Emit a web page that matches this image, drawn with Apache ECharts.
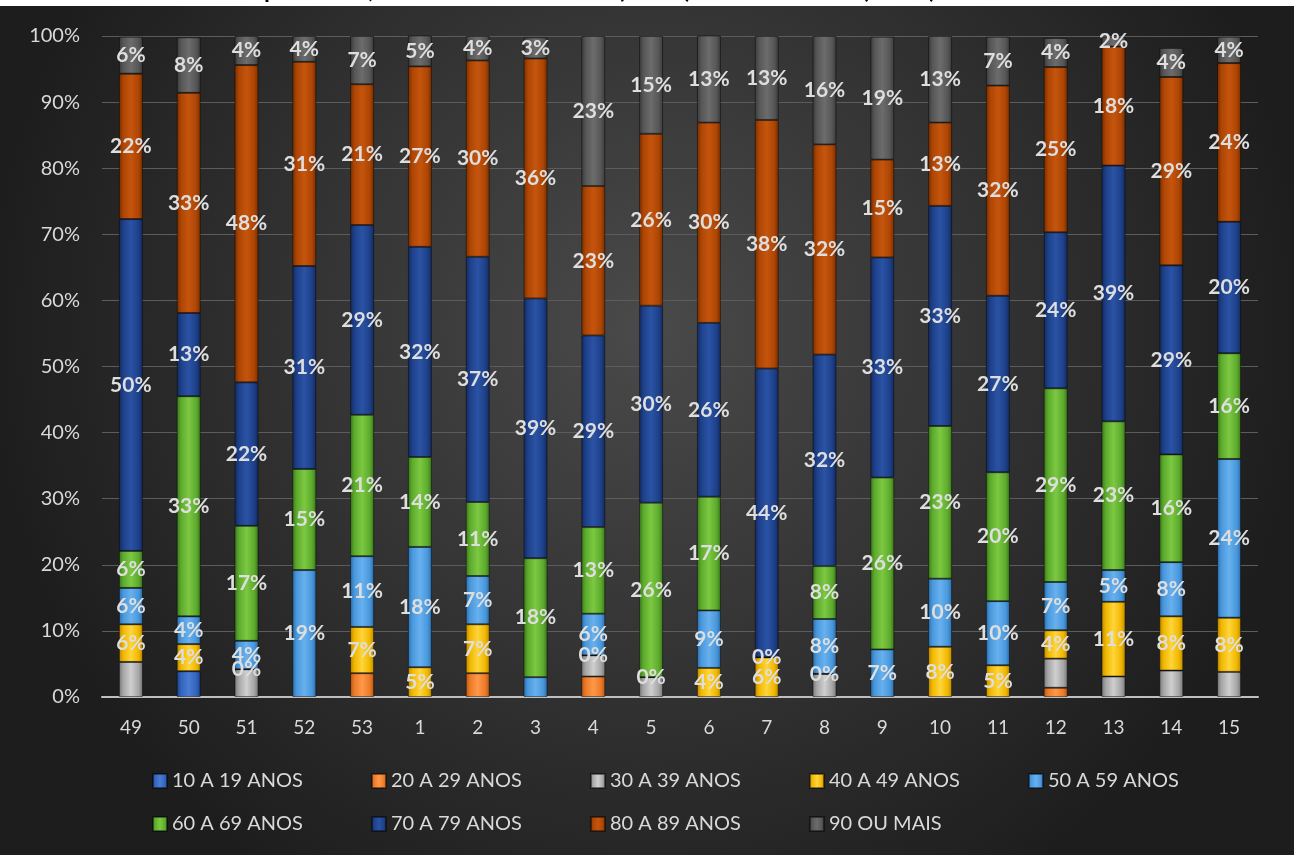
<!DOCTYPE html>
<html><head><meta charset="utf-8">
<script src="https://cdn.jsdelivr.net/npm/echarts@6/dist/echarts.min.js"></script>
<style>html,body{margin:0;padding:0;background:#fff;}#c{width:1294px;height:855px;}</style>
</head><body><div id="c"></div>
<script>
// ---- data ----
const categories = ['49','50','51','52','53','1','2','3','4','5','6','7','8','9','10','11','12','13','14','15'];
const seriesNames = ['10 A 19 ANOS','20 A 29 ANOS','30 A 39 ANOS','40 A 49 ANOS','50 A 59 ANOS','60 A 69 ANOS','70 A 79 ANOS','80 A 89 ANOS','90 OU MAIS'];
const a10_19 = [null,3.9,null,null,null,null,null,null,null,null,null,null,null,null,null,null,null,null,null,null];
const a20_29 = [null,null,null,null,3.6,null,3.6,null,3.1,null,null,null,null,null,null,null,1.4,null,null,null];
const a30_39 = [5.3,null,4.2,null,null,null,null,null,3.2,3.0,null,null,3.5,null,null,null,4.4,3.1,4.0,3.8];
const a40_49 = [5.7,4.1,0,null,7.0,4.5,7.4,null,0,0,4.4,6.0,0,null,7.6,4.8,4.3,11.3,8.2,8.2];
const a50_59 = [5.5,4.2,4.3,19.2,10.7,18.2,7.3,3.0,6.3,null,8.7,0,8.3,7.2,10.3,9.7,7.3,4.8,8.2,24.0];
const a60_69 = [5.6,33.3,17.4,15.3,21.4,13.6,11.2,18.0,13.1,26.4,17.2,null,8.0,26.0,23.1,19.5,29.3,22.5,16.3,16.0];
const a70_79 = [50.2,12.6,21.7,30.7,28.7,31.8,37.1,39.3,29.0,29.8,26.3,43.7,32.0,33.3,33.3,26.7,23.6,38.7,28.6,19.9];
const a80_89 = [22.0,33.3,48.0,30.9,21.3,27.3,29.7,36.3,22.6,26.0,30.3,37.6,31.8,14.8,12.6,31.8,25.0,18.0,28.5,24.0];
const a90 = [5.6,8.4,4.4,3.9,7.3,4.7,3.7,3.2,22.7,14.8,13.2,12.7,16.4,18.6,13.1,7.4,4.4,1.5,4.4,4.0];
const seriesValues = [a10_19,a20_29,a30_39,a40_49,a50_59,a60_69,a70_79,a80_89,a90];
const labelledSeries = [false,false,false,true,true,true,true,true,true];
const hiddenLabels = [[4,'3']]; // [series index, category]
const yTickValues = [0,10,20,30,40,50,60,70,80,90,100];
const titleText = 'Faixa etária dos óbitos por SRAG, de dezembro de 2020 (SE 49) a abril de 2021 (SE 15)';

// ---- styles ----
const palette = [
  ['#1a4185','#3264bd','#4a7cd4'],
  ['#b55614','#ec7a28','#ff984a'],
  ['#767676','#a6a6a6','#cfcfcf'],
  ['#b98600','#f0b700','#ffd53a'],
  ['#2d6aa6','#4898dc','#68b0ee'],
  ['#3a761a','#5dab2d','#7cc842'],
  ['#12295a','#1e4089','#2a53a5'],
  ['#732d00','#ad4504','#c5550d'],
  ['#383838','#565656','#6c6c6c']
];
function grad(c){
  return new echarts.graphic.LinearGradient(0,0,1,0,[
    {offset:0,color:c[0]},{offset:0.18,color:c[1]},{offset:0.5,color:c[2]},
    {offset:0.82,color:c[1]},{offset:1,color:c[0]}]);
}
const FONT = 'Lato, "Open Sans", sans-serif';

const chart = echarts.init(document.getElementById('c'), null, {renderer:'canvas'});
const series = seriesNames.map((name,si)=>({
  name, type:'bar', stack:'total', barWidth:24,
  itemStyle:{color:grad(palette[si]), borderColor:'rgba(0,0,0,0.45)', borderWidth:1},
  label:{show:labelledSeries[si], position:'inside', color:'#dedede', fontSize:21, fontWeight:'bold',
         fontFamily:FONT, formatter:p=>Math.round(p.value)+'%'},
  data: seriesValues[si].map((v,ci)=>{
    const hide = hiddenLabels.some(h=>h[0]===si && h[1]===categories[ci]);
    return hide ? {value:v,label:{show:false}} : v;
  })
}));

const legendCommon = {left:147, itemWidth:14, itemHeight:14, itemGap:68, icon:'rect',
  textStyle:{color:'#d9d9d9',fontSize:20,fontFamily:FONT}};

chart.setOption({
  animation:false,
  graphic:[
    {type:'rect', z:-10, silent:true, shape:{x:0,y:6,width:1294,height:849},
     style:{fill:{type:'radial',x:0.5,y:0.38,r:0.78,colorStops:[{offset:0,color:'#4a4a4a'},{offset:1,color:'#1d1d1d'}]}}},
    {type:'text', z:-5, left:20, top:-22, style:{text:titleText, fill:'#000', font:'bold 24px '+FONT}}
  ],
  grid:{left:102,right:36,top:36,bottom:158},
  xAxis:{type:'category', data:categories,
    axisLine:{lineStyle:{color:'#bfbfbf',width:2}}, axisTick:{show:false},
    axisLabel:{color:'#d9d9d9',fontSize:19,margin:21,fontFamily:FONT}},
  yAxis:{type:'value', min:yTickValues[0], max:yTickValues[yTickValues.length-1], interval:yTickValues[1]-yTickValues[0],
    axisLine:{show:false}, axisTick:{show:false},
    axisLabel:{color:'#d9d9d9',fontSize:20,margin:22,fontFamily:FONT,formatter:'{value}%'},
    splitLine:{lineStyle:{color:'#5c5c5c',width:1}}},
  legend:[
    Object.assign({data:seriesNames.slice(0,5), top:766}, legendCommon),
    Object.assign({data:seriesNames.slice(5), top:809}, legendCommon)
  ],
  series
});
</script></body></html>
